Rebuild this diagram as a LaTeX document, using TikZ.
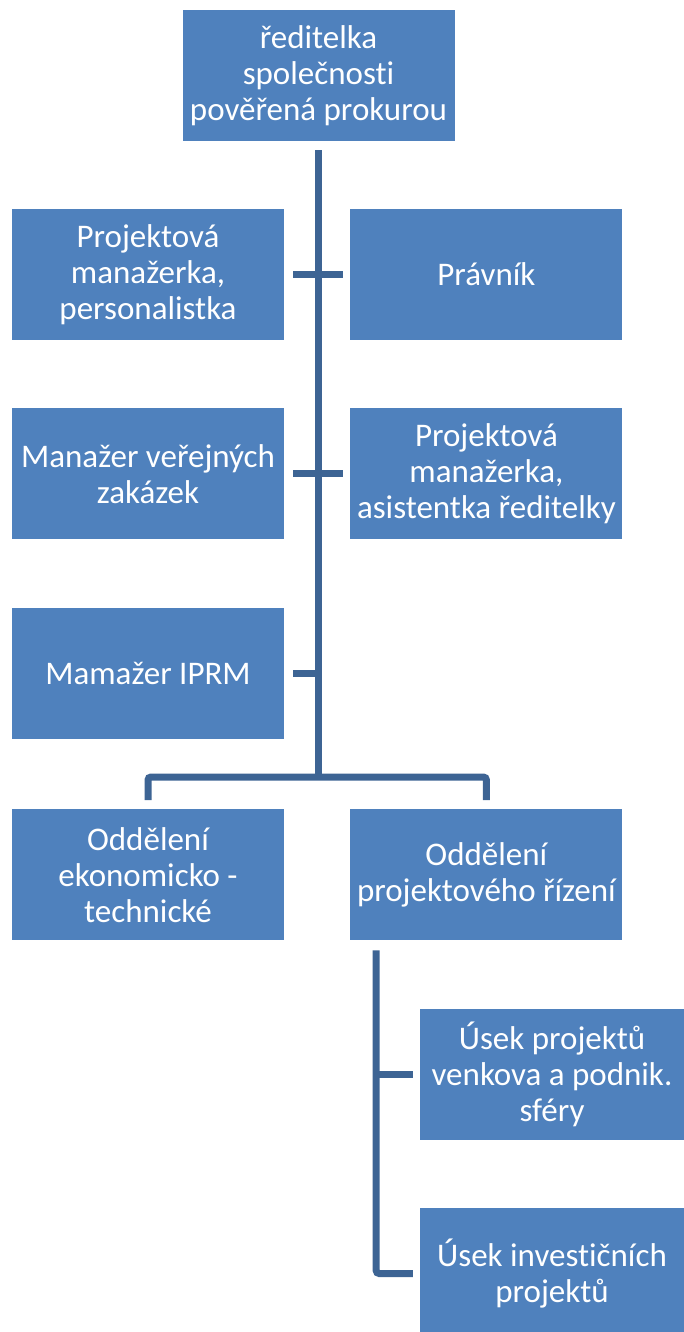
\documentclass[tikz,border=0pt]{standalone}
\usepackage{fontspec}
\setmainfont{Carlito}[Ligatures=NoCommon]
\usetikzlibrary{positioning}
\definecolor{boxblue}{RGB}{79,129,189}
\definecolor{lineblue}{RGB}{61,100,148}

\begin{document}
\begin{tikzpicture}[
x=1pt, y=1pt,
box/.style={
	rectangle, fill=boxblue, text=white,
	minimum width=272pt, minimum height=131pt,
	inner sep=2pt, align=center,
	font=\fontsize{33}{36}\selectfont
},
sub/.style={box, minimum width=264pt},
conn/.style={draw=lineblue, line width=7pt, rounded corners=3pt}
]
\useasboundingbox (0,0) rectangle (684,-1332);
\node[box] (dir) at (318.5,-75.5) {ředitelka\\společnosti\\pověřená prokurou};
\node[box] (pm1) at (148,-274.5) {Projektová\\manažerka,\\personalistka};
\node[box,right=66pt of pm1] (law) {Právník};
\node[box,below=68pt of pm1] (vz) {Manažer veřejných\\zakázek};
\node[box,right=66pt of vz] (pm2) {Projektová\\manažerka,\\asistentka ředitelky};
\node[box,below=68pt of vz] (iprm) {Mamažer IPRM};
\node[box,below=70pt of iprm] (oet) {Oddělení\\ekonomicko -\\technické};
\node[box,right=66pt of oet] (opr) {Oddělení\\projektového řízení};
\node[sub] (u1) at (552,-1074.5) {Úsek projektů\\venkova a podnik.\\sféry};
\node[sub] (u2) at (552,-1273.5) {Úsek investičních\\projektů};
\coordinate (bus) at ([yshift=32pt]dir.south |- oet.north);
\coordinate (st) at ([xshift=26pt,yshift=-10pt]opr.south west);
\draw[conn] ([yshift=-9pt]dir.south) -- (bus);
\draw[conn] ([yshift=9pt]oet.north) |- (bus) -| ([yshift=9pt]opr.north);
\foreach \a/\b in {pm1/law,vz/pm2}
{
	\draw[conn] ([xshift=9pt]\a.east) -- ([xshift=-7pt]\b.west);
}
\draw[conn] ([xshift=9pt]iprm.east) -- (iprm.east -| dir.south);
\draw[conn] (st) |- ([xshift=-7pt]u2.west);
\draw[conn] (st |- u1.west) -- ([xshift=-7pt]u1.west);
\end{tikzpicture}
\end{document}
